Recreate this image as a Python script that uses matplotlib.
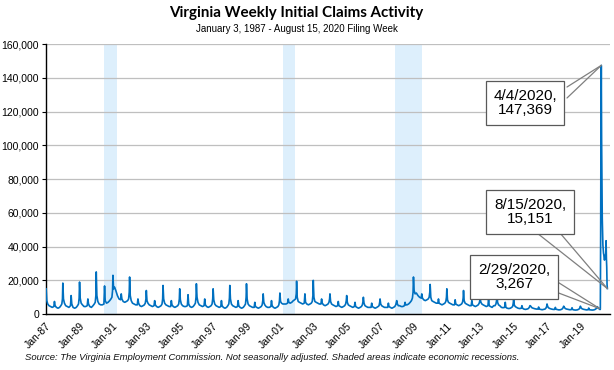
import matplotlib
matplotlib.use("Agg")
import matplotlib.pyplot as plt
import matplotlib.dates as mdates
from matplotlib.ticker import FuncFormatter, MultipleLocator
import datetime as dt

# Week-of-year sample points used for each year (1987-2019)
weekCols = [1, 3, 6, 10, 15, 20, 25, 27, 29, 33, 38, 43, 47, 50, 52]

# Initial claims (thousands), one row per year
yearVals = {
    1987: [15.0, 8.0, 6.0, 5.0, 4.5, 4.0, 4.5, 7.5, 5.0, 4.0, 3.5, 4.0, 5.0, 6.0, 9.0],
    1988: [18.4, 9.0, 6.5, 5.0, 4.5, 4.0, 5.0, 11.0, 6.0, 4.0, 3.5, 4.0, 5.0, 6.0, 9.5],
    1989: [19.0, 9.5, 6.5, 5.5, 4.5, 4.5, 5.0, 9.0, 6.0, 4.5, 4.0, 5.0, 6.0, 7.0, 11.0],
    1990: [25.0, 11.0, 7.5, 6.0, 5.5, 5.5, 6.0, 16.7, 8.0, 6.5, 7.0, 8.0, 9.0, 10.0, 14.0],
    1991: [23.0, 15.0, 16.0, 14.0, 11.0, 9.0, 8.5, 12.0, 9.0, 7.5, 7.0, 7.5, 8.0, 9.0, 13.0],
    1992: [22.0, 11.0, 8.0, 6.5, 6.0, 5.5, 5.5, 9.0, 6.5, 5.0, 4.5, 5.0, 5.5, 6.5, 9.0],
    1993: [14.0, 8.0, 6.5, 5.5, 5.0, 4.5, 5.0, 8.0, 5.5, 4.5, 4.0, 4.5, 5.0, 6.0, 9.0],
    1994: [17.0, 9.0, 6.5, 5.5, 5.0, 4.5, 4.5, 8.0, 5.5, 4.5, 4.0, 4.5, 5.0, 6.0, 9.0],
    1995: [15.0, 8.5, 6.0, 5.0, 4.5, 4.5, 5.0, 11.5, 6.0, 4.5, 4.0, 4.5, 5.5, 6.5, 10.0],
    1996: [18.0, 10.0, 7.0, 5.5, 5.0, 4.5, 5.0, 9.0, 5.5, 4.5, 4.0, 4.5, 5.0, 6.0, 9.0],
    1997: [15.0, 8.5, 6.0, 5.0, 4.5, 4.0, 4.5, 8.0, 5.0, 4.0, 3.5, 4.0, 5.0, 6.0, 9.5],
    1998: [17.0, 9.0, 6.0, 5.0, 4.5, 4.0, 4.5, 8.0, 5.0, 4.0, 3.5, 4.0, 5.0, 6.0, 10.0],
    1999: [18.0, 9.0, 6.0, 5.0, 4.5, 4.0, 4.0, 7.0, 4.5, 4.0, 3.5, 4.0, 4.5, 5.5, 8.0],
    2000: [12.0, 7.0, 5.5, 4.5, 4.0, 4.0, 4.5, 8.0, 5.0, 4.0, 3.5, 4.0, 4.5, 5.5, 8.0],
    2001: [12.5, 7.5, 6.5, 6.0, 6.0, 6.0, 6.5, 9.0, 7.0, 6.5, 7.0, 8.0, 8.5, 9.0, 12.0],
    2002: [19.5, 10.0, 7.5, 7.0, 6.5, 6.0, 6.5, 12.0, 7.0, 6.0, 5.5, 6.0, 6.5, 7.5, 11.0],
    2003: [20.0, 10.0, 7.5, 7.0, 6.5, 6.0, 6.0, 9.0, 6.5, 5.5, 5.0, 5.5, 6.0, 7.0, 9.0],
    2004: [12.0, 7.5, 6.0, 5.5, 5.0, 4.5, 5.0, 7.5, 5.0, 4.5, 4.0, 4.5, 5.0, 6.0, 8.0],
    2005: [11.0, 7.0, 5.5, 5.0, 4.5, 4.0, 4.5, 7.0, 4.5, 4.0, 3.5, 4.0, 4.5, 5.5, 7.5],
    2006: [10.0, 6.5, 5.0, 4.5, 4.0, 4.0, 4.0, 6.5, 4.5, 4.0, 3.5, 4.0, 4.5, 5.0, 7.0],
    2007: [9.0, 6.0, 5.0, 4.5, 4.0, 4.0, 4.0, 6.5, 4.5, 4.0, 3.5, 4.0, 4.5, 5.5, 7.0],
    2008: [8.0, 6.0, 5.0, 5.0, 4.5, 4.5, 5.0, 7.0, 5.5, 5.5, 6.0, 7.0, 8.0, 9.5, 13.0],
    2009: [22.0, 14.0, 12.0, 12.5, 11.0, 10.0, 9.5, 12.0, 9.5, 8.5, 8.0, 8.5, 9.0, 10.0, 13.0],
    2010: [17.6, 10.0, 8.0, 7.5, 7.0, 6.5, 6.5, 9.0, 6.5, 6.0, 5.5, 6.0, 6.5, 7.5, 10.0],
    2011: [15.0, 8.5, 7.0, 6.5, 6.0, 5.5, 5.5, 8.5, 6.0, 5.5, 5.0, 5.5, 6.0, 7.0, 9.5],
    2012: [14.0, 8.0, 6.5, 6.0, 5.5, 5.0, 5.0, 8.0, 5.5, 5.0, 4.5, 5.0, 5.5, 6.5, 8.0],
    2013: [9.0, 7.0, 6.0, 5.5, 5.0, 4.5, 5.0, 9.0, 5.0, 4.5, 4.0, 5.0, 5.0, 6.0, 8.0],
    2014: [12.0, 7.0, 5.5, 5.0, 4.0, 3.8, 4.0, 7.0, 4.0, 3.5, 3.3, 3.5, 4.0, 4.5, 6.5],
    2015: [9.0, 5.5, 4.5, 4.0, 3.5, 3.3, 3.5, 5.0, 3.5, 3.0, 2.8, 3.0, 3.3, 4.0, 5.0],
    2016: [5.0, 4.5, 3.8, 3.5, 3.2, 3.0, 3.0, 4.2, 3.0, 2.8, 2.6, 2.8, 3.0, 3.6, 4.5],
    2017: [6.0, 4.5, 3.7, 3.3, 3.0, 2.8, 2.8, 4.0, 2.9, 2.7, 2.5, 2.6, 2.9, 3.4, 4.2],
    2018: [4.7, 4.0, 3.3, 3.0, 2.8, 2.6, 2.7, 3.8, 2.7, 2.5, 2.4, 2.5, 2.8, 3.2, 4.0],
    2019: [4.7, 3.8, 3.2, 2.9, 2.7, 2.5, 2.6, 3.6, 2.6, 2.5, 2.4, 2.5, 2.8, 3.2, 4.0],
}

# 2020 weekly filing weeks (ending dates) and claims
dates2020 = ['2020-01-04', '2020-01-11', '2020-01-25', '2020-02-08', '2020-02-22',
             '2020-02-29', '2020-03-07', '2020-03-14', '2020-03-21', '2020-03-28',
             '2020-04-04', '2020-04-11', '2020-04-18', '2020-04-25', '2020-05-02',
             '2020-05-09', '2020-05-16', '2020-05-23', '2020-05-30', '2020-06-06',
             '2020-06-13', '2020-06-20', '2020-06-27', '2020-07-04', '2020-07-11',
             '2020-07-18', '2020-07-25', '2020-08-01', '2020-08-08', '2020-08-15']
claims2020 = [4000, 4400, 3600, 3300, 3100,
              3267, 2700, 2900, 46277, 112497,
              147369, 104000, 82000, 57000, 48000,
              41000, 38000, 36000, 35000, 33000,
              32000, 33000, 34000, 35000, 36000,
              43500, 33000, 28000, 17500, 15151]

tickYears = list(range(1987, 2020, 2))

recessions = [('1990-07-01', '1991-03-31'), ('2001-03-01', '2001-11-30'), ('2007-12-01', '2009-06-30')]

# label, target date, target value, box centre (fig px), leader-line start points (fig px)
callouts = [('4/4/2020,\n147,369', '2020-04-04', 147369, (525, 267), [(567, 283), (567, 272)]),
            ('8/15/2020,\n15,151', '2020-08-15', 15151, (530, 158), [(537, 137), (560, 137)]),
            ('2/29/2020,\n3,267', '2020-02-29', 3267, (514, 93), [(556, 89), (556, 78)])]

# Build the series
xs = []
ys = []
for yr, vals in yearVals.items():
    for wk, v in zip(weekCols, vals):
        d = dt.date(yr, 1, 1) + dt.timedelta(days=(wk - 1) * 7 + 2)
        xs.append(d)
        ys.append(v * 1000)
for d, v in zip(dates2020, claims2020):
    xs.append(dt.date.fromisoformat(d))
    ys.append(v)

fig = plt.figure(figsize=(6.14, 3.70), dpi=100)
ax = fig.add_axes([0.075, 0.151, 0.918, 0.730])

for s, e in recessions:
    ax.axvspan(dt.date.fromisoformat(s), dt.date.fromisoformat(e),
               color='#DDEFFC', lw=0, zorder=0)

ax.plot(xs, ys, color='#0070C0', lw=1.2, zorder=3)

ax.set_ylim(0, 160000)
ax.set_xlim(dt.date(1987, 1, 3), dt.date(2020, 10, 5))
ax.yaxis.set_major_locator(MultipleLocator(20000))
ax.yaxis.set_major_formatter(FuncFormatter(lambda v, p: f'{int(v):,}'))
ax.grid(axis='y', color='#BFBFBF', lw=0.9, zorder=1)
ax.set_axisbelow(True)

ax.set_xticks([dt.date(y, 1, 1) for y in tickYears])
ax.xaxis.set_major_formatter(mdates.DateFormatter('Jan-%y'))

narrow = ['Liberation Sans Narrow', 'Liberation Sans', 'DejaVu Sans']
for lab in ax.get_xticklabels() + ax.get_yticklabels():
    lab.set_family(narrow)
    lab.set_fontsize(7.5)
plt.setp(ax.get_xticklabels(), rotation=45, ha='right', rotation_mode='anchor')
ax.tick_params(axis='y', length=3, width=0.8, color='black', pad=2)
ax.tick_params(axis='x', length=0, pad=5)

for sp in ['top', 'right']:
    ax.spines[sp].set_visible(False)
for sp in ['left', 'bottom']:
    ax.spines[sp].set_color('black')
    ax.spines[sp].set_linewidth(1.0)

for txt, d, v, pos, starts in callouts:
    target = (dt.date.fromisoformat(d), v)
    for st in starts:
        ax.annotate('', xy=target, xycoords='data', xytext=st, textcoords='figure pixels',
                    arrowprops=dict(arrowstyle='-', color='#7F7F7F', lw=0.9,
                                    shrinkA=0, shrinkB=0), zorder=4)
    ax.annotate(txt, xy=pos, xycoords='figure pixels',
                ha='center', va='center', fontsize=11, family='Liberation Sans',
                linespacing=1.05, zorder=5,
                bbox=dict(boxstyle='square,pad=0.5', fc='white', ec='#595959', lw=0.9))

fig.text(0.483, 0.965, 'Virginia Weekly Initial Claims Activity', ha='center', va='center',
         fontsize=10.9, fontweight='bold', family=['Lato', 'DejaVu Sans'])
fig.text(0.483, 0.921, 'January 3, 1987 - August 15, 2020 Filing Week', ha='center', va='center',
         fontsize=7.0, family=narrow)
fig.text(0.04, 0.033, 'Source: The Virginia Employment Commission. Not seasonally adjusted. '
         'Shaded areas indicate economic recessions.', ha='left', va='center',
         fontsize=6.8, style='italic', family='Liberation Sans', color='#111111')

fig.savefig('out.png', dpi=100)
